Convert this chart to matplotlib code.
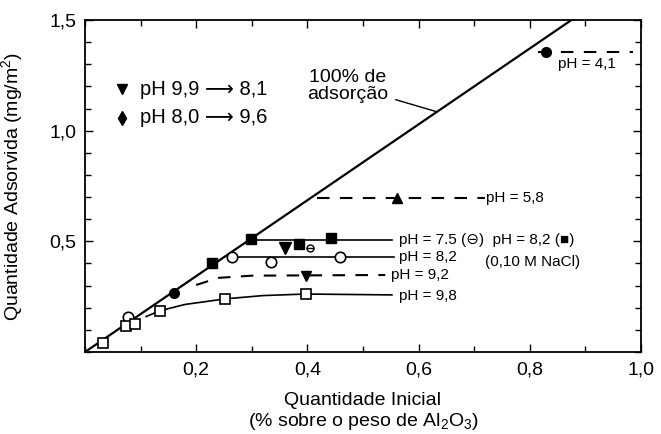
import matplotlib
matplotlib.use("Agg")
import matplotlib.pyplot as plt
from matplotlib.ticker import MultipleLocator

plt.rcParams['font.family'] = ['Liberation Sans', 'DejaVu Sans']
plt.rcParams['mathtext.fontset'] = 'custom'
plt.rcParams['mathtext.rm'] = 'Liberation Sans'
plt.rcParams['mathtext.it'] = 'Liberation Sans:italic'

# linha de 100% de adsorcao
line100_x = [0.0, 0.875]
line100_y = [0.0, 1.5]

# pH 4,1
ph41_x = [0.83]
ph41_y = [1.357]
ph41_line_x = [0.815, 0.985]
ph41_line_y = [1.357, 1.357]

# pH 5,8
ph58_x = [0.561]
ph58_y = [0.697]
ph58_line_x = [0.417, 0.72]
ph58_line_y = [0.695, 0.695]

# pH 8,2 (0,10 M NaCl) quadrados cheios, pH 7,5 circulo cortado
nacl_x = [0.229, 0.299, 0.385, 0.442]
nacl_y = [0.403, 0.511, 0.49, 0.516]
ph75_x = [0.405]
ph75_y = [0.47]
nacl_line_x = [0.295, 0.552]
nacl_line_y = [0.505, 0.505]

# pH 9,9 -> 8,1 e pH 8,0 -> 9,6
ph99_x = [0.36]
ph99_y = [0.47]
ph80_x = [0.16]
ph80_y = [0.267]

# pH 8,2
ph82_x = [0.078, 0.265, 0.335, 0.459]
ph82_y = [0.158, 0.43, 0.407, 0.43]
ph82_line_x = [0.265, 0.555]
ph82_line_y = [0.43, 0.43]

# pH 9,2
ph92_x = [0.397]
ph92_y = [0.345]
ph92_line_x = [0.2, 0.24, 0.3, 0.54]
ph92_line_y = [0.303, 0.335, 0.345, 0.348]

# pH 9,8
ph98_x = [0.032, 0.074, 0.09, 0.134, 0.252, 0.397]
ph98_y = [0.041, 0.118, 0.127, 0.186, 0.24, 0.262]
ph98_line_x = [0.11, 0.134, 0.18, 0.252, 0.32, 0.397, 0.552]
ph98_line_y = [0.16, 0.186, 0.215, 0.24, 0.255, 0.262, 0.258]

x_ticks = [0.2, 0.4, 0.6, 0.8, 1.0]
x_ticklabels = ['0,2', '0,4', '0,6', '0,8', '1,0']
y_ticks = [0.5, 1.0, 1.5]
y_ticklabels = ['0,5', '1,0', '1,5']

fig = plt.figure(figsize=(6.61, 4.34), dpi=100)
ax = fig.add_axes([0.1286, 0.1889, 0.8411, 0.765])

k = 'black'
dash = (0, (6, 5))

ax.plot(line100_x, line100_y, color=k, lw=1.6)

ax.plot(ph41_line_x, ph41_line_y, color=k, lw=1.5, ls=dash)
ax.plot(ph41_x, ph41_y, 'o', color=k, ms=7)

ax.plot(ph58_line_x, ph58_line_y, color=k, lw=1.5, ls=dash)
ax.plot(ph58_x, ph58_y, '^', color=k, ms=7)

ax.plot(nacl_line_x, nacl_line_y, color=k, lw=1.2)
ax.plot(nacl_x, nacl_y, 's', color=k, ms=7)
ax.plot(ph75_x, ph75_y, 'o', mfc='white', mec=k, ms=5, mew=1.0)
ax.plot(ph75_x, ph75_y, '_', color=k, ms=6, mew=1.0)

ax.plot(ph82_line_x, ph82_line_y, color=k, lw=1.2)
ax.plot(ph82_x, ph82_y, 'o', mfc='white', mec=k, ms=7.5, mew=1.2)

ax.plot(ph92_line_x, ph92_line_y, color=k, lw=1.5, ls=dash)
ax.plot(ph92_x, ph92_y, 'v', color=k, ms=7)

ax.plot(ph98_line_x, ph98_line_y, color=k, lw=1.2)
ax.plot(ph98_x, ph98_y, 's', mfc='white', mec=k, ms=7, mew=1.2)

ax.plot(ph99_x, ph99_y, 'v', color=k, ms=8)
ax.plot(ph80_x, ph80_y, 'o', color=k, ms=7)

# rotulos das curvas
fs = 11
ax.text(0.851, 1.30, 'pH = 4,1', fontsize=fs, va='center')
ax.text(0.722, 0.697, 'pH = 5,8', fontsize=fs, va='center')
ax.text(0.564, 0.505, 'pH = 7.5 (\u2296)  pH = 8,2 (\u25a0)', fontsize=fs, va='center')
ax.text(0.72, 0.405, '(0,10 M NaCl)', fontsize=fs, va='center')
ax.text(0.564, 0.43, 'pH = 8,2', fontsize=fs, va='center')
ax.text(0.55, 0.348, 'pH = 9,2', fontsize=fs, va='center')
ax.text(0.564, 0.255, 'pH = 9,8', fontsize=fs, va='center')

ax.text(0.473, 1.20, '100% de\nadsorção', fontsize=14, ha='center', va='center',
        linespacing=1.0)
ax.plot([0.559, 0.632], [1.14, 1.086], color=k, lw=1.0)

# legenda manual
ax.plot([0.067], [0.792], 'v', color=k, ms=7, transform=ax.transAxes)
ax.plot([0.067], [0.705], 'd', color=k, ms=7, transform=ax.transAxes)
ax.text(0.099, 0.792, 'pH 9,9 \u27f6 8,1', fontsize=14.5, va='center',
        transform=ax.transAxes)
ax.text(0.099, 0.705, 'pH 8,0 \u27f6 9,6', fontsize=14.5, va='center',
        transform=ax.transAxes)

ax.set_xlim(0, 1.0)
ax.set_ylim(0, 1.5)
ax.set_xticks(x_ticks)
ax.set_xticklabels(x_ticklabels)
ax.set_yticks(y_ticks)
ax.set_yticklabels(y_ticklabels)
ax.xaxis.set_minor_locator(MultipleLocator(0.1))
ax.yaxis.set_minor_locator(MultipleLocator(0.1))
ax.tick_params(which='both', direction='in', top=True, right=True, labelsize=14,
               width=1.0)
ax.tick_params(axis='x', which='major', pad=7)
ax.tick_params(axis='y', which='major', pad=6)
ax.tick_params(which='major', length=6)
ax.tick_params(which='minor', length=4)
for s in ax.spines.values():
    s.set_linewidth(1.3)

ax.set_ylabel('Quantidade Adsorvida (mg/m$^2$)', fontsize=14)
ax.yaxis.set_label_coords(-0.108, 0.5)
ax.set_xlabel('Quantidade Inicial\n(% sobre o peso de Al$_2$O$_3$)', fontsize=14,
              linespacing=1.15)
ax.xaxis.set_label_coords(0.5, -0.12)

fig.savefig('out.png', dpi=100)
